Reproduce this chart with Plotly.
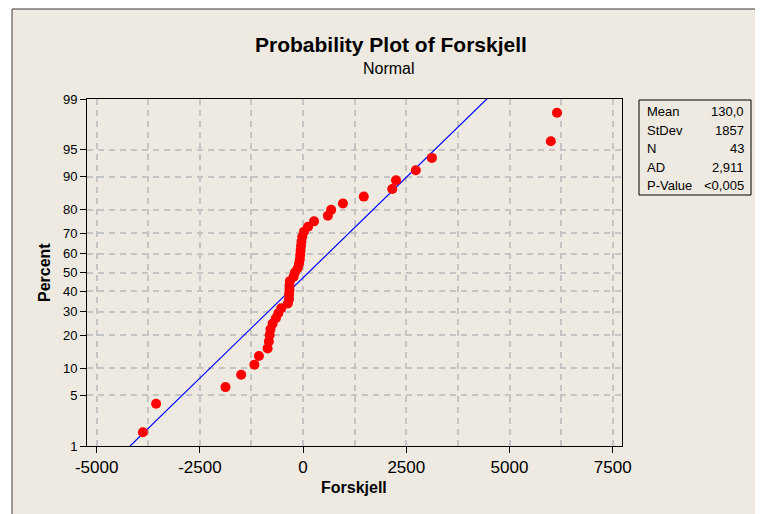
import plotly.graph_objects as go
from statistics import NormalDist

# ---- data ----
forskjell = [-3880, -3560, -1880, -1500, -1180, -1070, -860, -830, -810, -790,
             -740, -660, -600, -530, -370, -340, -340, -330, -330, -320,
             -230, -200, -130, -100, -80, -70, -60, -50, -40, -20,
             20, 120, 265, 600, 680, 965, 1470, 2160, 2250, 2730,
             3120, 6000, 6150]
percent = [1.61, 3.92, 6.22, 8.53, 10.83, 13.13, 15.44, 17.74, 20.05, 22.35,
           24.65, 26.96, 29.26, 31.57, 33.87, 36.18, 38.48, 40.78, 43.09, 45.39,
           47.70, 50.00, 52.30, 54.61, 56.91, 59.22, 61.52, 63.82, 66.13, 68.43,
           70.74, 73.04, 75.35, 77.65, 79.95, 82.26, 84.56, 86.87, 89.17, 91.47,
           93.78, 96.08, 98.39]
fit_mean = 130.0
fit_stdev = 1857
y_tick_labels = [1, 5, 10, 20, 30, 40, 50, 60, 70, 80, 90, 95, 99]
x_tick_vals = [-5000, -2500, 0, 2500, 5000, 7500]
stats_names = ["Mean", "StDev", "N", "AD", "P-Value"]
stats_values = ["130,0", "1857", "43", "2,911", "<0,005"]

nd = NormalDist()
def z(p):
    return nd.inv_cdf(p / 100.0)

W, H = 763, 514
OFF = 8  # page body margin
L, R, T, B = 87 - OFF, 622 - OFF, 99 - OFF, 446 - OFF  # plot area pixels (figure coords)
def px(x):
    return (x - OFF - L) / (R - L)
def py(y):
    return (B - (y - OFF)) / (B - T)

FONT = "Liberation Sans, Arial, sans-serif"
BG = "#EEEAE1"
GRID = "#C4C4C4"

fig = go.Figure()

# fitted line
zline = [z(0.05), z(99.95)]
fig.add_trace(go.Scatter(
    x=[fit_mean + fit_stdev * v for v in zline], y=zline,
    mode="lines", line=dict(color="#0000FF", width=1.2),
    hoverinfo="skip", showlegend=False))

# data points
fig.add_trace(go.Scatter(
    x=forskjell, y=[z(p) for p in percent], mode="markers",
    marker=dict(color="#FF0000", size=10, line=dict(width=0)),
    showlegend=False))

shapes = [
    # outer frame with beige background
    dict(type="rect", xref="paper", yref="paper", layer="below",
         x0=px(12), x1=px(790), y0=py(540), y1=py(9),
         fillcolor=BG, line=dict(color="#3A3A3A", width=1)),
    # stats box
    dict(type="rect", xref="paper", yref="paper", layer="above",
         x0=px(639), x1=px(751), y0=py(195), y1=py(100),
         fillcolor="rgba(0,0,0,0)", line=dict(color="black", width=1)),
]

annotations = [
    dict(text="<b>Probability Plot of Forskjell</b>", x=px(391), y=py(45),
         xref="paper", yref="paper", showarrow=False, xanchor="center", yanchor="middle",
         font=dict(family=FONT, size=21, color="black")),
    dict(text="Normal", x=px(389), y=py(68), xref="paper", yref="paper",
         showarrow=False, xanchor="center", yanchor="middle",
         font=dict(family=FONT, size=16, color="black")),
    dict(text="<b>Percent</b>", x=px(44), y=py(273), xref="paper", yref="paper",
         showarrow=False, xanchor="center", yanchor="middle", textangle=-90,
         font=dict(family=FONT, size=16, color="black")),
    dict(text="<b>Forskjell</b>", x=px(354), y=py(487), xref="paper", yref="paper",
         showarrow=False, xanchor="center", yanchor="middle",
         font=dict(family=FONT, size=16, color="black")),
]
row_y = [111, 130, 148, 167, 185]
for name, val, ry in zip(stats_names, stats_values, row_y):
    annotations.append(dict(text=name, x=px(645), y=py(ry), xref="paper", yref="paper",
                            showarrow=False, xanchor="left", yanchor="middle",
                            font=dict(family=FONT, size=13, color="black")))
    annotations.append(dict(text=val, x=px(746), y=py(ry), xref="paper", yref="paper",
                            showarrow=False, xanchor="right", yanchor="middle",
                            font=dict(family=FONT, size=13, color="black")))

fig.update_layout(
    width=W, height=H,
    margin=dict(l=L, r=W - R, t=T, b=H - B),
    paper_bgcolor="white", plot_bgcolor="white",
    shapes=shapes, annotations=annotations,
    showlegend=False,
    xaxis=dict(range=[-5234, 7724], tickvals=x_tick_vals,
               ticktext=[str(v) if v >= 0 else "-" + str(-v) for v in x_tick_vals],
               ticks="outside", ticklen=6, tickcolor="black",
               showline=True, linecolor="black", linewidth=1, mirror=True,
               showgrid=True, gridcolor=GRID, griddash="6px,5px", gridwidth=1.5,
               minor=dict(dtick=1250, tick0=0, showgrid=True, gridcolor=GRID,
                          griddash="6px,5px", gridwidth=1.5, ticks=""),
               zeroline=False, tickfont=dict(family=FONT, size=17, color="black")),
    yaxis=dict(range=[z(1), z(99)], tickvals=[z(v) for v in y_tick_labels],
               ticktext=[str(v) for v in y_tick_labels],
               ticks="outside", ticklen=6, tickcolor="black",
               showline=True, linecolor="black", linewidth=1, mirror=True,
               showgrid=True, gridcolor=GRID, griddash="6px,5px", gridwidth=1.5,
               zeroline=False, tickfont=dict(family=FONT, size=13, color="black")),
)

fig.write_html("out.html")
